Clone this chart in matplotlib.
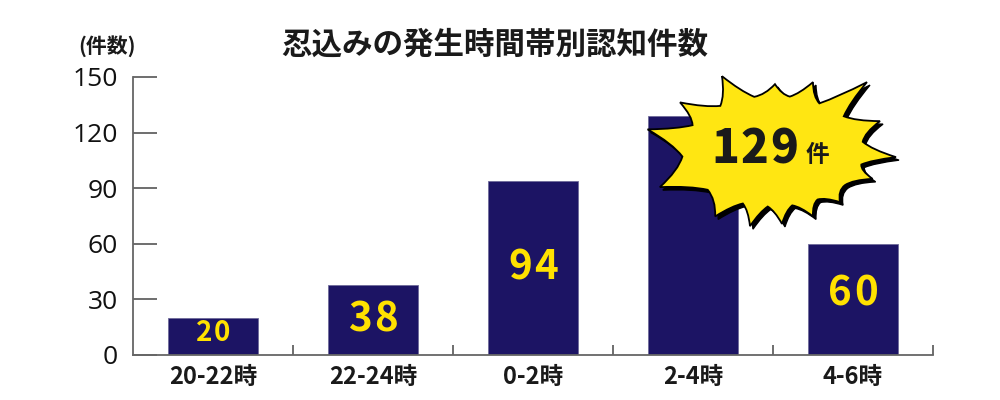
import numpy as np
import matplotlib
matplotlib.use("Agg")
import matplotlib.pyplot as plt
from matplotlib.patches import PathPatch
from matplotlib.path import Path
from matplotlib.transforms import Affine2D, ScaledTranslation

plt.rcParams['font.family'] = ['Noto Sans CJK JP', 'DejaVu Sans']

# data
categories = ['20-22時', '22-24時', '0-2時', '2-4時', '4-6時']
counts = [20, 38, 94, 129, 60]
label_y = [12, 19, 47, None, 33]   # where the yellow numbers sit inside bars
y_ticks = [0, 30, 60, 90, 120, 150]

title = '忍込みの発生時間帯別認知件数'
unit_label = '(件数)'
peak_unit = '件'

bar_color = '#1c1464'
yellow = '#ffe100'


def spaced_text(ax, x, y, s, step, **kw):
    # draw a string one character at a time so the digits get wide tracking
    n = len(s)
    for i, ch in enumerate(s):
        ax.annotate(ch, (x, y), xytext=((i - (n - 1) / 2) * step, 0),
                    textcoords='offset points', ha='center', va='center', **kw)


fig = plt.figure(figsize=(10, 4), dpi=100)
ax = fig.add_axes([0.133, 0.1125, 0.8, 0.695])

x = np.arange(len(categories))
ax.bar(x, counts, width=0.56, color=bar_color, edgecolor='#6f6a9a', linewidth=0.6, zorder=2)

ax.set_xlim(-0.5, len(categories) - 0.5)
ax.set_ylim(0, 150)
ax.set_yticks(y_ticks)
ax.set_yticklabels([str(v) for v in y_ticks], fontsize=19, color='#111111',
                   family=['Open Sans', 'DejaVu Sans'])
ax.tick_params(axis='y', direction='in', length=17, width=1.2, color='#555555', pad=11)

# category labels at centres, small ticks at the category boundaries
ax.set_xticks(x)
ax.set_xticklabels(categories, fontsize=17, fontweight='bold', color='#1a1a1a')
ax.tick_params(axis='x', length=0, pad=7)
ax.set_xticks(np.arange(0.5, len(categories)), minor=True)
ax.tick_params(axis='x', which='minor', direction='in', length=7, width=1.2, color='#555555')

for s in ['top', 'right']:
    ax.spines[s].set_visible(False)
for s in ['left', 'bottom']:
    ax.spines[s].set_color('#666666')
    ax.spines[s].set_linewidth(1.3)

# yellow numbers inside bars
for xi, v, ly in zip(x, counts, label_y):
    if ly is None:
        continue
    if v < 30:
        spaced_text(ax, xi, ly, str(v), 13, fontsize=20, fontweight='bold', color=yellow, zorder=3)
    else:
        spaced_text(ax, xi, ly, str(v), 19, fontsize=29, fontweight='bold', color=yellow, zorder=3)

# starburst callout for the peak bar (shape in unit coords, scaled to pixels)
tips = np.array([
    (-0.415, 1.0), (0.016, 0.893), (0.325, 0.92), (0.764, 0.92), (0.87, 0.4),
    (1.0, -0.08), (0.81, -0.37), (0.545, -0.68), (0.325, -0.87), (0.073, -0.97),
    (-0.187, -1.0), (-0.47, -0.87), (-0.92, -0.48), (-1.02, 0.29), (-0.756, 0.65),
])
verts, codes = [tuple(tips[0])], [Path.MOVETO]
for k in range(len(tips)):
    t1, t2 = tips[k], tips[(k + 1) % len(tips)]
    mid = (t1 + t2) / 2
    valley = mid / np.hypot(*mid) * 0.74
    verts += [tuple((t1 + valley) / 2 * 0.93), tuple(valley),
              tuple((valley + t2) / 2 * 0.93), tuple(t2)]
    codes += [Path.CURVE3, Path.CURVE3, Path.CURVE3, Path.CURVE3]
burst_path = Path(verts, codes)

peak_i = int(np.argmax(counts))
cx, cy = peak_i + 0.5, counts[peak_i] - 19
shape = Affine2D().scale(123, 75)
place = ScaledTranslation(cx, cy, ax.transData)
ax.add_patch(PathPatch(burst_path, facecolor='black', edgecolor='black', linewidth=1,
                       transform=shape + Affine2D().translate(3, -3) + place,
                       zorder=4, clip_on=False))
ax.add_patch(PathPatch(burst_path, facecolor='#ffe612', edgecolor='black', linewidth=1.3,
                       transform=shape + place, zorder=5, clip_on=False))

ax.annotate(peak_unit, (cx, cy), xytext=(32, -3), textcoords='offset points',
            ha='center', va='center', fontsize=17, fontweight='bold', color='#1a1a1a', zorder=6)
n_peak = str(counts[peak_i])
for i, ch in enumerate(n_peak):
    ax.annotate(ch, (cx, cy), xytext=(-13 + (i - 1) * 21, 1), textcoords='offset points',
                ha='center', va='center', fontsize=33, fontweight='heavy',
                color='#1a1a1a', zorder=6)

fig.text(0.495, 0.888, title, ha='center', va='center', fontsize=22,
         fontweight='bold', color='#1a1a1a')
fig.text(0.107, 0.885, unit_label, ha='center', va='center', fontsize=15,
         fontweight='bold', color='#1a1a1a')

fig.savefig('out.png', dpi=100)
